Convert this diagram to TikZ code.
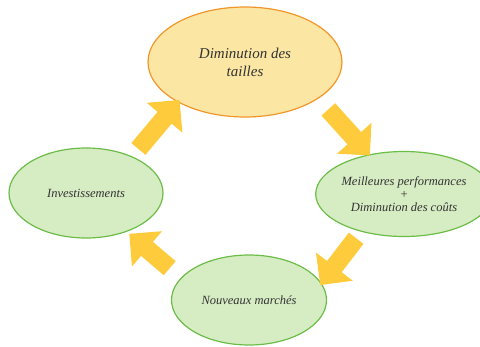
\documentclass[tikz,border=0pt]{standalone}
\usepackage{fontspec}
\setmainfont{Liberation Serif}
\usepackage{xcolor}
\usepackage{tikz}
\usetikzlibrary{shapes.geometric}
\usetikzlibrary{shapes.arrows}
\definecolor{sunfill}{HTML}{FCE6A3}
\definecolor{sunline}{HTML}{F2962A}
\definecolor{leaffill}{HTML}{D6ECC3}
\definecolor{leafline}{HTML}{6CBD48}
\definecolor{blockarrow}{HTML}{FDCB3C}
\definecolor{inktext}{HTML}{333333}

\begin{document}
\begin{tikzpicture}[x=1pt, y=-1pt,
        bubble/.style={ellipse, draw=leafline, fill=leaffill, line width=1.2pt,
            text=inktext, font=\itshape\fontsize{12.5}{13}\selectfont, align=center, inner sep=0pt},
        topbubble/.style={bubble, draw=sunline, fill=sunfill, font=\itshape\fontsize{15}{18}\selectfont},
        fatarrow/.style={single arrow, fill=blockarrow, draw=none, inner sep=9pt,
            single arrow head extend=14pt, single arrow tip angle=90}]
        % Frame
        \useasboundingbox (0,0) rectangle (480,346);

        % Ellipses
        \node[topbubble, minimum width=194pt, minimum height=110pt] (taille) at (245,62) {Diminution des\\tailles};
        \node[bubble, minimum width=150pt, minimum height=85pt] (perf) at (404,194) {Meilleures performances\\+\\Diminution des coûts};
        \node[bubble, minimum width=155pt, minimum height=90pt] (marche) at (249,300) {Nouveaux marchés};
        \node[bubble, minimum width=154pt, minimum height=90pt] (invest) at (86,193) {Investissements};

        % Block arrows of the cycle
        \node[fatarrow, minimum height=64pt, rotate=50] (up) at (156,128) {};
        \node[fatarrow, minimum height=62pt, rotate=-48] (down) at (346,129) {};
        \node[fatarrow, minimum height=59pt, rotate=-127.5] (back) at (341,258) {};
        \node[fatarrow, minimum height=53pt, rotate=139.6] (left) at (153,254) {};
    \end{tikzpicture}
\end{document}
